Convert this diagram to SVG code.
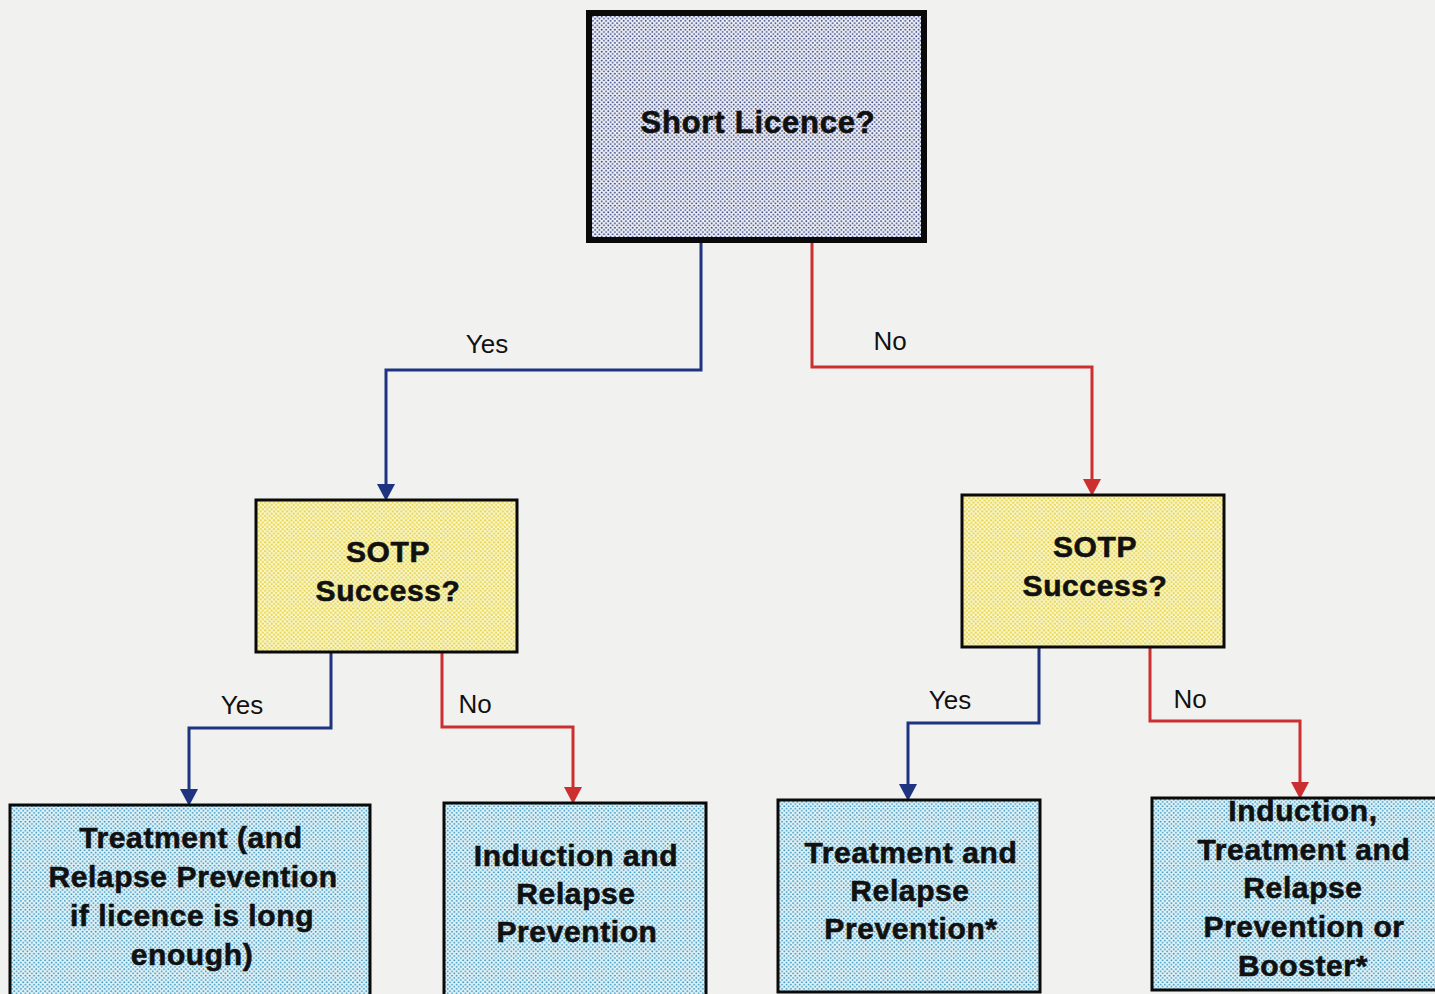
<svg xmlns="http://www.w3.org/2000/svg" width="1435" height="994" viewBox="0 0 1435 994">
  <defs>
    <!-- halftone dot fills -->
    <pattern id="dotsNavy" width="4.4" height="4.4" patternUnits="userSpaceOnUse">
      <rect width="4.4" height="4.4" fill="#f1f3f8"/>
      <circle cx="1.1" cy="1.1" r="0.95" fill="#34427e"/>
      <circle cx="3.3" cy="3.3" r="0.95" fill="#34427e"/>
    </pattern>
    <pattern id="dotsYellow" width="4.4" height="4.4" patternUnits="userSpaceOnUse">
      <rect width="4.4" height="4.4" fill="#faf7d0"/>
      <circle cx="1.1" cy="1.1" r="1.1" fill="#e6d54e"/>
      <circle cx="3.3" cy="3.3" r="1.1" fill="#e6d54e"/>
    </pattern>
    <pattern id="dotsCyan" width="4.4" height="4.4" patternUnits="userSpaceOnUse">
      <rect width="4.4" height="4.4" fill="#e6f4f8"/>
      <circle cx="1.1" cy="1.1" r="0.95" fill="#3596bf"/>
      <circle cx="3.3" cy="3.3" r="0.95" fill="#3596bf"/>
    </pattern>
    <style>
      .title { font-family: "Liberation Sans", Arial, sans-serif; font-weight: bold; font-size: 30px; letter-spacing: 0.6px; fill: #111; text-anchor: middle; stroke: #111; stroke-width: 0.6px; }
      .label { font-family: "Liberation Sans", Arial, sans-serif; font-size: 26px; fill: #111; text-anchor: middle; }
      .blue { stroke: #1e3480; stroke-width: 3; fill: none; }
      .red { stroke: #cc2f2f; stroke-width: 3; fill: none; }
      .headBlue { fill: #1e3480; }
      .headRed { fill: #cc2f2f; }
    </style>
  </defs>

  <rect width="1435" height="994" fill="#f1f1f0"/>

  <!-- connectors -->
  <g id="connectors">
    <polyline class="blue" points="701,242 701,370 386,370 386,490"/>
    <polyline class="red" points="812,242 812,367 1092,367 1092,485"/>
    <polyline class="blue" points="331,652 331,728 189,728 189,795"/>
    <polyline class="red" points="442,652 442,727 573,727 573,793"/>
    <polyline class="blue" points="1039,647 1039,723 908,723 908,790"/>
    <polyline class="red" points="1150,647 1150,721 1300,721 1300,788"/>
    <path class="headBlue" d="M377,484 L395,484 L386,501 Z"/>
    <path class="headRed" d="M1083,479 L1101,479 L1092,496 Z"/>
    <path class="headBlue" d="M180,789 L198,789 L189,806 Z"/>
    <path class="headRed" d="M564,787 L582,787 L573,804 Z"/>
    <path class="headBlue" d="M899,784 L917,784 L908,801 Z"/>
    <path class="headRed" d="M1291,782 L1309,782 L1300,799 Z"/>
    <text class="label" x="487" y="353">Yes</text>
    <text class="label" x="890" y="350">No</text>
    <text class="label" x="242" y="714">Yes</text>
    <text class="label" x="475" y="713">No</text>
    <text class="label" x="950" y="709">Yes</text>
    <text class="label" x="1190" y="708">No</text>
  </g>

  <!-- root decision -->
  <g id="short-licence">
    <rect x="589" y="13" width="335" height="227" fill="url(#dotsNavy)" stroke="#0a0a0a" stroke-width="6"/>
    <text class="title" x="758" y="133" style="font-size:31px;letter-spacing:0.8px">Short Licence?</text>
  </g>

  <!-- second level decisions -->
  <g id="sotp-left">
    <rect x="256" y="500" width="261" height="152" fill="url(#dotsYellow)" stroke="#0a0a0a" stroke-width="3"/>
    <text class="title" x="388" y="562">SOTP</text>
    <text class="title" x="388" y="601">Success?</text>
  </g>
  <g id="sotp-right">
    <rect x="962" y="495" width="262" height="152" fill="url(#dotsYellow)" stroke="#0a0a0a" stroke-width="3"/>
    <text class="title" x="1095" y="557">SOTP</text>
    <text class="title" x="1095" y="596">Success?</text>
  </g>

  <!-- outcomes -->
  <g id="outcome-1">
    <rect x="10" y="805" width="360" height="200" fill="url(#dotsCyan)" stroke="#0a0a0a" stroke-width="3"/>
    <text class="title" x="191" y="848">Treatment (and</text>
    <text class="title" x="193" y="887">Relapse Prevention</text>
    <text class="title" x="192" y="926">if licence is long</text>
    <text class="title" x="192" y="965">enough)</text>
  </g>
  <g id="outcome-2">
    <rect x="444" y="803" width="262" height="200" fill="url(#dotsCyan)" stroke="#0a0a0a" stroke-width="3"/>
    <text class="title" x="576" y="866">Induction and</text>
    <text class="title" x="576" y="904">Relapse</text>
    <text class="title" x="577" y="942">Prevention</text>
  </g>
  <g id="outcome-3">
    <rect x="778" y="800" width="262" height="192" fill="url(#dotsCyan)" stroke="#0a0a0a" stroke-width="3"/>
    <text class="title" x="911" y="863">Treatment and</text>
    <text class="title" x="910" y="901">Relapse</text>
    <text class="title" x="911" y="939">Prevention*</text>
  </g>
  <g id="outcome-4">
    <rect x="1152" y="798" width="290" height="192" fill="url(#dotsCyan)" stroke="#0a0a0a" stroke-width="3"/>
    <text class="title" x="1303" y="821">Induction,</text>
    <text class="title" x="1304" y="860">Treatment and</text>
    <text class="title" x="1303" y="898">Relapse</text>
    <text class="title" x="1304" y="937">Prevention or</text>
    <text class="title" x="1303" y="976">Booster*</text>
  </g>
</svg>
